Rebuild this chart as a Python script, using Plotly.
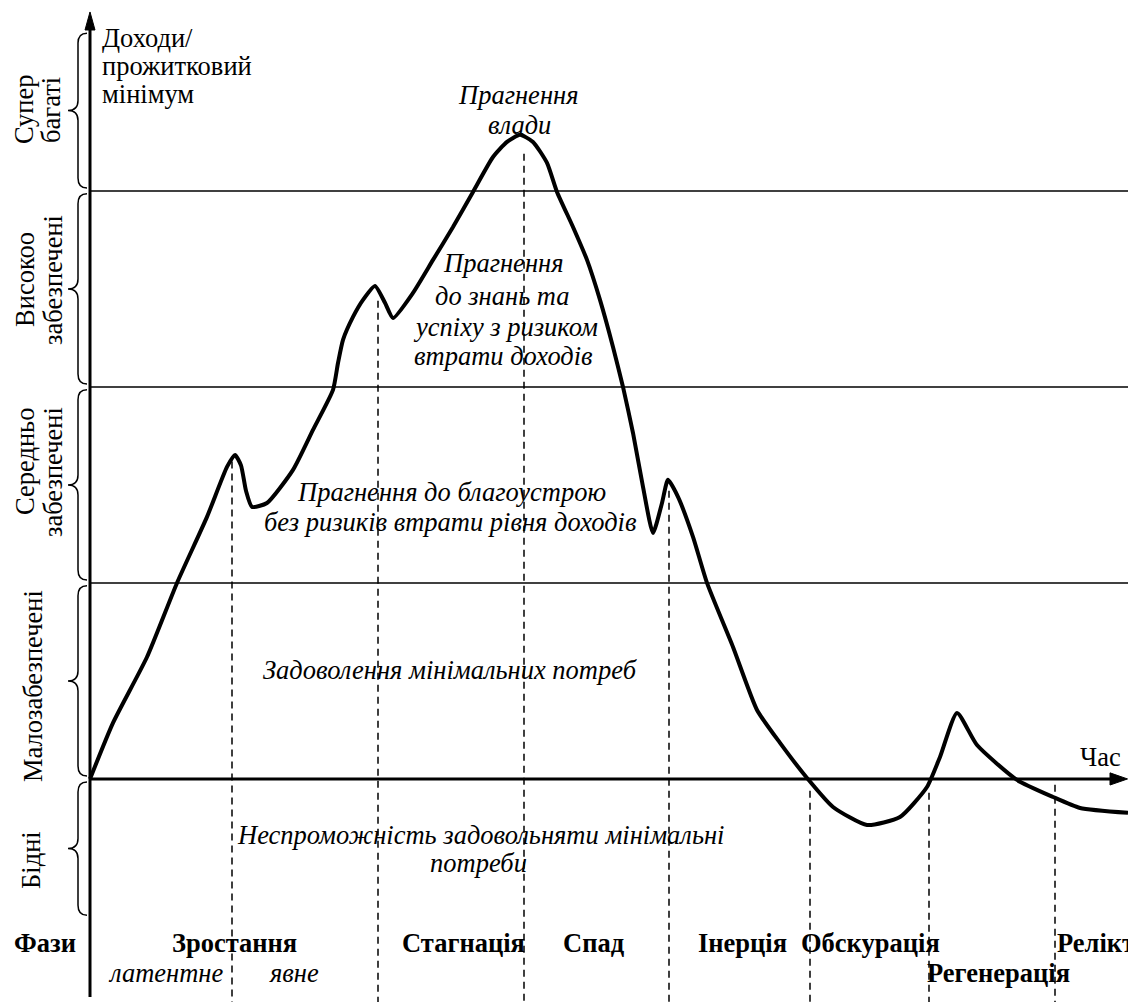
import plotly.graph_objects as go

# ---- data (time units, income level units: 0 = subsistence line, 1 band = 1 unit) ----
curve_t = [0.00, 0.23, 0.57, 0.87, 1.17, 1.37, 1.45, 1.51, 1.56, 1.62, 1.77, 2.03, 2.23, 2.43,
           2.48, 2.53, 2.63, 2.73, 2.85, 2.95, 3.03, 3.23, 3.43, 3.63, 3.83, 4.03, 4.17, 4.30,
           4.43, 4.57, 4.67, 4.83, 4.97, 5.10, 5.23, 5.33, 5.43, 5.53, 5.63, 5.72, 5.78, 5.88,
           6.03, 6.17, 6.43, 6.67, 6.90, 7.17, 7.43, 7.77, 8.10, 8.37, 8.50, 8.67, 8.87, 9.27,
           9.63, 9.90, 10.38]
curve_y = [0.000, 0.286, 0.622, 1.000, 1.337, 1.592, 1.653, 1.600, 1.470, 1.388, 1.408, 1.577, 1.781, 1.985,
           2.122, 2.240, 2.357, 2.444, 2.515, 2.429, 2.352, 2.480, 2.648, 2.816, 2.995, 3.173, 3.250, 3.286,
           3.250, 3.143, 2.995, 2.816, 2.648, 2.444, 2.204, 2.000, 1.765, 1.490, 1.255, 1.408, 1.526, 1.439,
           1.235, 1.000, 0.673, 0.352, 0.184, 0.005, -0.143, -0.235, -0.194, -0.041, 0.112, 0.337, 0.173, -0.005,
           -0.092, -0.148, -0.173]

band_edges = [3.82, 3.0, 2.0, 1.0, 0.0, -0.71]

phase_t = [1.42, 2.88, 4.34, 5.79, 7.20, 8.39, 9.65]
phase_top = [1.62, 2.44, 3.19, 1.47, -0.06, -0.07, -0.03]

phase_names = ["Зростання", "Стагнація", "Спад", "Інерція", "Обскурація", "Регенерація", "Релікт"]
sub_names = ["латентне", "явне"]

X_MIN, X_MAX = -0.90, 10.38
Y_MIN, Y_MAX = -1.138, 3.974

SERIF = "Liberation Serif"
FS = 26.5

fig = go.Figure()

fig.add_trace(go.Scatter(x=curve_t, y=curve_y, mode="lines",
                         line=dict(color="black", width=4, shape="spline", smoothing=0.55),
                         hoverinfo="skip", showlegend=False))

shapes = []
for e in band_edges[1:4]:
    shapes.append(dict(type="line", x0=0, x1=X_MAX, y0=e, y1=e,
                       line=dict(color="black", width=1.5)))
# x axis
shapes.append(dict(type="line", x0=0, x1=10.25, y0=0, y1=0, line=dict(color="black", width=3)))
shapes.append(dict(type="path", path="M 10.375 0 L 10.20 0.031 L 10.20 -0.031 Z",
                   fillcolor="black", line=dict(color="black", width=1)))
# y axis
shapes.append(dict(type="line", x0=0, x1=0, y0=-1.112, y1=3.85, line=dict(color="black", width=3)))
shapes.append(dict(type="path", path="M 0 3.913 L -0.05 3.821 L 0.05 3.821 Z",
                   fillcolor="black", line=dict(color="black", width=1)))
# phase dashed lines
for t, top in zip(phase_t, phase_top):
    shapes.append(dict(type="line", x0=t, x1=t, y0=top, y1=Y_MIN,
                       line=dict(color="black", width=1.5, dash="7px,5px")))

# braces
xe, xm, xt, r, g = -0.03, -0.12, -0.22, 0.051, 0.015
for i in range(len(band_edges) - 1):
    top = band_edges[i] - g
    bot = band_edges[i + 1] + g
    mid = (top + bot) / 2
    p = (f"M {xe} {top} Q {xm} {top} {xm} {top - r} L {xm} {mid + r} "
         f"Q {xm} {mid} {xt} {mid} Q {xm} {mid} {xm} {mid - r} "
         f"L {xm} {bot + r} Q {xm} {bot} {xe} {bot}")
    shapes.append(dict(type="path", path=p, line=dict(color="black", width=1.5)))

ann = []
def A(text, x, y, size=FS, italic=False, bold=False, xanchor="center", yanchor="middle",
      angle=0):
    t = text
    if bold:
        t = f"<b>{t}</b>"
    if italic:
        t = f"<i>{t}</i>"
    ann.append(dict(text=t, x=x, y=y, xref="x", yref="y", showarrow=False,
                    xanchor=xanchor, yanchor=yanchor, textangle=angle,
                    font=dict(family=SERIF, size=size, color="black")))

# axis titles
A("Доходи/", 0.10, 3.781, xanchor="left")
A("прожитковий", 0.10, 3.638, xanchor="left")
A("мінімум", 0.10, 3.495, xanchor="left")
A("Час", 10.10, 0.112)

# band labels (rotated)
A("Супер", -0.66, 3.413, angle=-90)
A("багаті", -0.39, 3.413, angle=-90)
A("Високоо", -0.65, 2.546, angle=-90)
A("забезпечені", -0.37, 2.546, angle=-90)
A("Середньо", -0.65, 1.617, angle=-90)
A("забезпечені", -0.37, 1.566, angle=-90)
A("Малозабезпечені", -0.57, 0.474, angle=-90)
A("Бідні", -0.59, -0.413, angle=-90)

# motives
A("Прагнення", 4.28, 3.490, italic=True)
A("влади", 4.29, 3.337, italic=True)
A("Прагнення", 4.13, 2.633, italic=True)
A("до знань та", 4.12, 2.464, italic=True)
A("успіху з ризиком", 4.15, 2.306, italic=True)
A("втрати доходів", 4.13, 2.158, italic=True)
A("Прагнення до благоустрою", 3.61, 1.464, italic=True)
A("без ризиків втрати рівня доходів", 3.60, 1.311, italic=True)
A("Задоволення мінімальних потреб", 3.60, 0.556, italic=True)
A("Неспроможність задовольняти мінімальні", 3.90, -0.286, italic=True)
A("потреби", 3.88, -0.429, italic=True)

# phases
row1, row2 = -0.837, -0.990
A("Фази", -0.45, row1, bold=True)
name_x = [1.44, 3.73, 5.04, 6.52, 7.80, 9.08, 9.65]
name_y = [row1, row1, row1, row1, row1, row2, row1]
for nm, nx, ny in zip(phase_names, name_x, name_y):
    A(nm, nx, ny, bold=True, xanchor="left" if nm == "Релікт" else "center")
A(sub_names[0], 0.75, row2, italic=True)
A(sub_names[1], 2.04, row2, italic=True)

fig.update_layout(
    width=1128, height=1002,
    margin=dict(l=0, r=0, t=0, b=0),
    paper_bgcolor="white", plot_bgcolor="white",
    font=dict(family=SERIF),
    xaxis=dict(range=[X_MIN, X_MAX], visible=False, fixedrange=True),
    yaxis=dict(range=[Y_MIN, Y_MAX], visible=False, fixedrange=True),
    shapes=shapes, annotations=ann, showlegend=False,
)

fig.write_html("out.html", config={"displayModeBar": False},
               post_script="document.body.style.margin='0';document.body.style.overflow='hidden';")
